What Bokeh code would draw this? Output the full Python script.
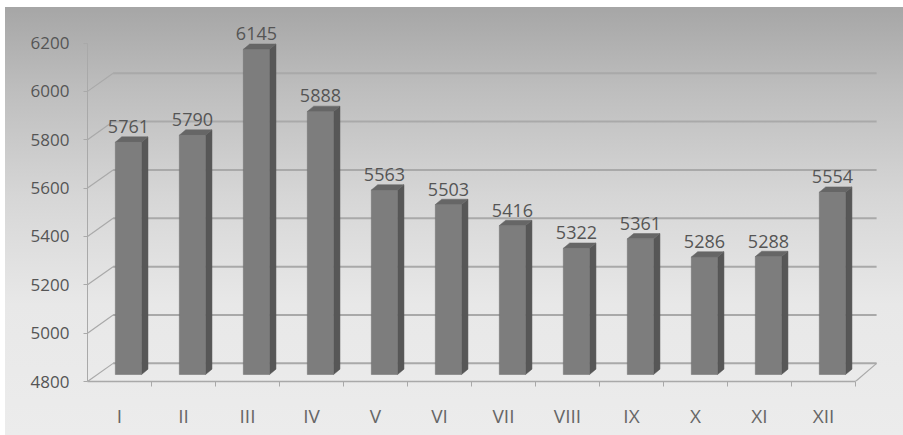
from bokeh.plotting import figure
from bokeh.models import Range1d, FixedTicker, ColumnDataSource
from bokeh.core.properties import value
from bokeh.embed import file_html
from bokeh.resources import INLINE

# ---- data ----
months = ["I", "II", "III", "IV", "V", "VI", "VII", "VIII", "IX", "X", "XI", "XII"]
counts = [5761, 5790, 6145, 5888, 5563, 5503, 5416, 5322, 5361, 5286, 5288, 5554]
y_ticks = [4800, 5000, 5200, 5400, 5600, 5800, 6000, 6200]

# ---- 3D look constants (style) ----
Y0 = 4800
DEPTH_DY = 75          # back wall vertical shift (data units)
DEPTH_DX_L = 0.40      # back wall shift at left (x units)
DEPTH_DX_R = 0.33      # back wall shift at right
BAR_DX = 0.14          # bar front-face shift
BAR_DY = 29
BAR_W = 0.41
SIDE_DX = 0.10
SIDE_DY = 22

FONT = "Open Sans"

p = figure(width=903, height=435, output_backend="svg", toolbar_location=None,
           x_range=Range1d(-0.5, 12.016), y_range=Range1d(4800, 6318),
           min_border_left=87, min_border_right=15, min_border_top=14, min_border_bottom=54)
p.background_fill_alpha = 0
p.border_fill_alpha = 0
p.outline_line_color = None
p.styles = {"background": "linear-gradient(to right, #ffffff 0px, #ffffff 5px, rgba(255,255,255,0) 5px), "
                          "linear-gradient(to bottom, #ffffff 0px, #ffffff 7px, #a6a6a6 7px, #bdbdbd 20%, "
                          "#d6d6d6 45%, #e8e8e8 70%, #ececec 100%)"}
p.xgrid.visible = False
p.ygrid.visible = False

n = len(months)
xs = list(range(n))

# back wall gridlines and side-wall diagonals
grid_vals = [v for v in y_ticks if v <= 6000]
p.segment(x0=[-0.5 + DEPTH_DX_L] * len(grid_vals), y0=[v + DEPTH_DY for v in grid_vals],
          x1=[n - 0.5 + DEPTH_DX_R] * len(grid_vals), y1=[v + DEPTH_DY for v in grid_vals],
          line_color="#a9a9a9", line_width=2)
p.segment(x0=[-0.5] * len(grid_vals), y0=grid_vals,
          x1=[-0.5 + DEPTH_DX_L] * len(grid_vals), y1=[v + DEPTH_DY for v in grid_vals],
          line_color="#a9a9a9", line_width=1.2)
# floor right edge
p.segment(x0=[n - 0.5], y0=[Y0], x1=[n - 0.5 + DEPTH_DX_R], y1=[Y0 + DEPTH_DY],
          line_color="#a9a9a9", line_width=1.2)

# bars
front_l = [x + BAR_DX - BAR_W / 2 for x in xs]
front_r = [x + BAR_DX + BAR_W / 2 for x in xs]
tops = [c + BAR_DY for c in counts]
base = Y0 + BAR_DY

side_xs = [[r, r + SIDE_DX, r + SIDE_DX, r] for r in front_r]
side_ys = [[base, base + SIDE_DY, t + SIDE_DY, t] for t in tops]
top_xs = [[l, l + SIDE_DX, r + SIDE_DX, r] for l, r in zip(front_l, front_r)]
top_ys = [[t, t + SIDE_DY, t + SIDE_DY, t] for t in tops]

p.patches(side_xs, side_ys, fill_color="#575757", line_color="#575757", line_width=0.5)
p.patches(top_xs, top_ys, fill_color="#666666", line_color="#666666", line_width=0.5)
src = ColumnDataSource(dict(l=front_l, r=front_r, t=tops, b=[base] * n,
                            xc=[x + BAR_DX for x in xs], lab=[str(c) for c in counts]))
p.quad(left="l", right="r", top="t", bottom="b", source=src,
       fill_color="#7d7d7d", line_color="#6e6e6e", line_width=0.5)

# value labels
p.text(x="xc", y="t", text="lab", source=src, text_align="center", text_baseline="bottom",
       y_offset=-9, text_font=value(FONT), text_font_size="18px", text_color="#555555")

# axes
xa = p.xaxis[0]
xa.ticker = FixedTicker(ticks=xs, minor_ticks=[x + 0.5 for x in xs])
xa.major_label_overrides = {i: m for i, m in enumerate(months)}
xa.bounds = (-0.5, n - 0.5)
xa.axis_line_color = "#a9a9a9"
xa.axis_line_width = 1.5
xa.major_tick_line_color = None
xa.minor_tick_line_color = "#a9a9a9"
xa.minor_tick_out = 5
xa.minor_tick_in = 0
xa.major_label_standoff = 15
xa.major_label_text_font = FONT
xa.major_label_text_font_size = "19px"
xa.major_label_text_color = "#666666"

ya = p.yaxis[0]
ya.ticker = FixedTicker(ticks=y_ticks)
ya.bounds = (y_ticks[0], y_ticks[-1])
ya.axis_line_color = "#a9a9a9"
ya.major_tick_line_color = "#a9a9a9"
ya.major_tick_out = 4
ya.major_tick_in = 0
ya.minor_tick_line_color = None
ya.major_label_standoff = 14
ya.major_label_text_font = FONT
ya.major_label_text_font_size = "17px"
ya.major_label_text_color = "#555555"

open("out.html", "w").write(file_html(p, INLINE))
